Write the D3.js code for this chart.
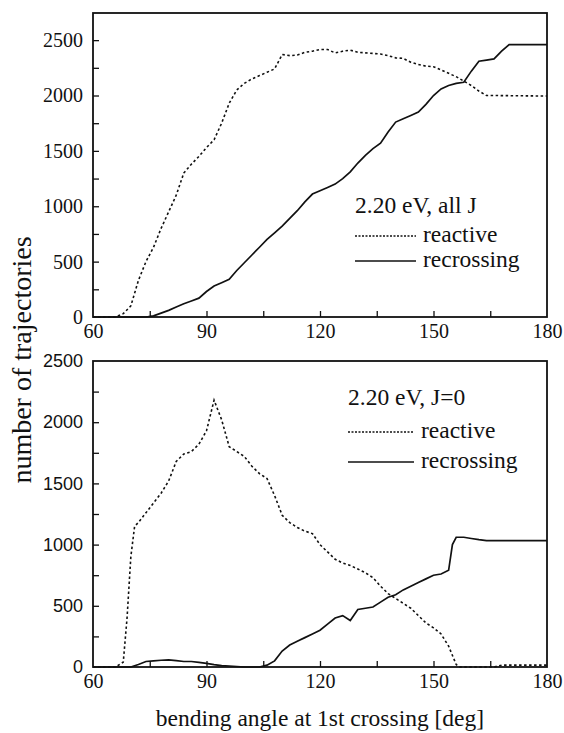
<!DOCTYPE html>
<html>
<head>
<meta charset="utf-8">
<script src="https://cdn.jsdelivr.net/npm/d3@7"></script>
<style>
  html, body { margin: 0; padding: 0; background: #fff; }
  svg { display: block; }
  text { fill: #111; }
</style>
</head>
<body>
<svg id="chart" width="564" height="733"></svg>
<script>
// ---------- data ----------
const xTicks = [60, 90, 120, 150, 180];
const yTicksTop = [0, 500, 1000, 1500, 2000, 2500];
const yTicksBottom = [0, 500, 1000, 1500, 2000, 2500];

// top panel: 2.20 eV, all J
const topReactive = [[60,0],[66,0],[68,30],[70,100],[72,330],[74,500],[76,630],[78,800],[80,950],[82,1100],[84,1300],[86,1380],[88,1450],[90,1530],[92,1600],[94,1750],[96,1930],[98,2050],[100,2110],[102,2150],[104,2180],[106,2210],[108,2240],[110,2370],[112,2360],[114,2365],[116,2390],[118,2400],[120,2415],[122,2415],[124,2385],[126,2400],[128,2410],[130,2390],[132,2385],[134,2380],[136,2375],[138,2360],[140,2340],[142,2335],[144,2300],[146,2280],[148,2265],[150,2260],[152,2230],[154,2200],[156,2170],[158,2130],[160,2090],[162,2040],[164,2000],[166,2000],[180,1995]];
const topRecrossing = [[60,0],[74,0],[76,10],[78,35],[80,60],[82,90],[84,120],[86,145],[88,170],[90,230],[92,280],[94,310],[96,340],[98,420],[100,490],[102,560],[104,630],[106,700],[108,760],[110,820],[112,890],[114,960],[116,1040],[118,1110],[120,1140],[122,1170],[124,1200],[126,1250],[128,1310],[130,1390],[132,1460],[134,1520],[136,1570],[138,1670],[140,1760],[142,1790],[144,1820],[146,1850],[148,1920],[150,2000],[152,2060],[154,2090],[156,2110],[158,2120],[160,2220],[162,2310],[164,2320],[166,2330],[168,2400],[170,2460],[180,2460]];

// bottom panel: 2.20 eV, J=0
const botReactive = [[60,0],[66,0],[68,40],[69,400],[70,900],[71,1150],[72,1180],[74,1260],[76,1340],[78,1420],[80,1520],[82,1680],[84,1740],[86,1760],[88,1820],[90,1930],[92,2180],[94,2020],[96,1800],[98,1760],[100,1720],[102,1640],[104,1580],[106,1540],[108,1400],[110,1240],[112,1180],[114,1140],[116,1110],[118,1090],[120,1000],[122,940],[124,880],[126,850],[128,830],[130,800],[132,770],[134,730],[136,660],[138,600],[140,560],[142,520],[144,480],[146,420],[148,360],[150,320],[152,270],[154,170],[156,20],[157,0],[166,0],[168,15],[180,15]];
const botRecrossing = [[60,0],[70,0],[72,20],[74,45],[76,50],[78,55],[80,58],[82,52],[84,45],[86,45],[88,38],[90,30],[92,20],[94,12],[96,8],[98,4],[100,0],[104,0],[106,15],[108,50],[110,130],[112,180],[114,210],[116,240],[118,270],[120,300],[122,350],[124,400],[126,420],[128,380],[130,470],[132,480],[134,490],[136,530],[138,570],[140,590],[142,630],[144,660],[146,690],[148,720],[150,750],[152,760],[154,790],[155,1000],[156,1060],[158,1060],[160,1050],[162,1040],[164,1032],[180,1032]];

const legendTop = ["2.20 eV, all J", "reactive", "recrossing"];
const legendBottom = ["2.20 eV, J=0", "reactive", "recrossing"];
const xTitle = "bending angle at 1st crossing [deg]";
const yTitle = "number of trajectories";

// ---------- drawing ----------
const svg = d3.select("#chart");
const SERIF = "'Liberation Serif', 'Times New Roman', serif";
const SANS = "'Liberation Sans', Arial, sans-serif";
const L = 93, R = 547;

function panel(cfg) {
  const x = d3.scaleLinear().domain([60, 180]).range([L, R]);
  const y = d3.scaleLinear().domain([0, cfg.ymax]).range([cfg.bottom, cfg.top]);
  const g = svg.append("g");

  // minor/major ticks (inward)
  const xt = d3.range(60, 181, 15);
  g.append("g").attr("transform", `translate(0,${cfg.bottom})`)
    .call(d3.axisTop(x).tickValues(xt.slice(1, -1)).tickSize(6).tickFormat(""))
    .call(a => a.select(".domain").remove())
    .call(a => a.selectAll("line").attr("stroke", "#111").attr("stroke-width", 1.3));
  const yt = d3.range(250, cfg.ymax, 250);
  g.append("g").attr("transform", `translate(${L},0)`)
    .call(d3.axisRight(y).tickValues(yt).tickSize(6).tickFormat(""))
    .call(a => a.select(".domain").remove())
    .call(a => a.selectAll("line").attr("stroke", "#111").attr("stroke-width", 1.3));

  // tick labels
  g.append("g").attr("transform", `translate(0,${cfg.bottom})`)
    .call(d3.axisBottom(x).tickValues(xTicks).tickSize(0).tickPadding(cfg.xpad).tickFormat(d3.format("d")))
    .call(a => a.select(".domain").remove())
    .call(a => a.selectAll("text").attr("font-family", SERIF).attr("font-size", 20).attr("fill", "#111"));
  g.append("g").attr("transform", `translate(${L},0)`)
    .call(d3.axisLeft(y).tickValues(cfg.yticks).tickSize(0).tickPadding(10).tickFormat(d3.format("d")))
    .call(a => a.select(".domain").remove())
    .call(a => a.selectAll("text").attr("font-family", cfg.yfont).attr("font-size", cfg.yfs).attr("fill", "#111"));

  // frame
  g.append("rect").attr("x", L).attr("y", cfg.top).attr("width", R - L).attr("height", cfg.bottom - cfg.top)
    .attr("fill", "none").attr("stroke", "#111").attr("stroke-width", 1.8);

  const line = d3.line().x(d => x(d[0])).y(d => y(d[1]));
  g.append("path").datum(cfg.reactive).attr("d", line).attr("fill", "none")
    .attr("stroke", "#111").attr("stroke-width", 1.6).attr("stroke-dasharray", "2.5,2.5");
  g.append("path").datum(cfg.recrossing).attr("d", line).attr("fill", "none")
    .attr("stroke", "#111").attr("stroke-width", 1.7);

  // legend
  const lg = cfg.legend;
  g.append("text").attr("x", lg.x).attr("y", lg.y0).text(cfg.labels[0])
    .attr("font-family", SERIF).attr("font-size", 23.5);
  g.append("line").attr("x1", lg.x).attr("x2", lg.x + lg.len).attr("y1", lg.y1 - 6).attr("y2", lg.y1 - 6)
    .attr("stroke", "#111").attr("stroke-width", 1.3).attr("stroke-dasharray", "2,1.5");
  g.append("text").attr("x", lg.x + lg.len + 7).attr("y", lg.y1).text(cfg.labels[1])
    .attr("font-family", SERIF).attr("font-size", 23.5);
  g.append("line").attr("x1", lg.x).attr("x2", lg.x + lg.len).attr("y1", lg.y2 - 6).attr("y2", lg.y2 - 6)
    .attr("stroke", "#111").attr("stroke-width", 1.7);
  g.append("text").attr("x", lg.x + lg.len + 7).attr("y", lg.y2).text(cfg.labels[2])
    .attr("font-family", SERIF).attr("font-size", 23.5);
}

panel({ top: 13, bottom: 317, ymax: 2745, yticks: yTicksTop, yfont: SERIF, yfs: 20, xpad: 7,
  reactive: topReactive, recrossing: topRecrossing, labels: legendTop,
  legend: { x: 355, len: 61, y0: 213, y1: 242, y2: 267 } });
panel({ top: 361, bottom: 667, ymax: 2500, yticks: yTicksBottom, yfont: SANS, yfs: 18, xpad: 7,
  reactive: botReactive, recrossing: botRecrossing, labels: legendBottom,
  legend: { x: 348, len: 66, y0: 405, y1: 438, y2: 468 } });

svg.append("text").attr("x", 320).attr("y", 726).attr("text-anchor", "middle")
  .attr("font-family", SERIF).attr("font-size", 23.5).text(xTitle);
svg.append("text").attr("transform", "translate(31,360) rotate(-90)").attr("text-anchor", "middle")
  .attr("font-family", SERIF).attr("font-size", 28).text(yTitle);
</script>
</body>
</html>
